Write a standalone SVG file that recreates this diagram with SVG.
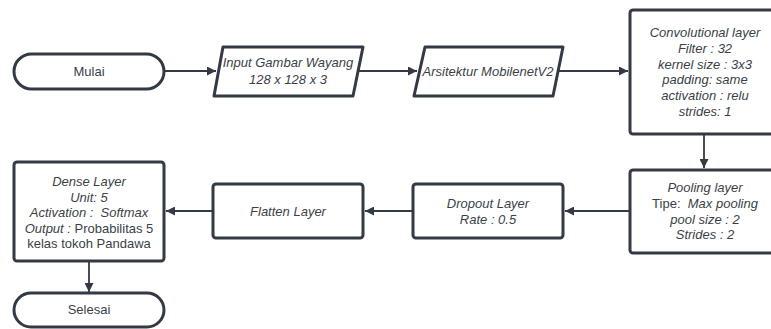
<svg xmlns="http://www.w3.org/2000/svg" width="771" height="329" viewBox="0 0 771 329">
<style>
.box{fill:#fff;stroke:#333a45;stroke-width:3;stroke-linejoin:round}
.t{font-family:"Liberation Sans",Arial,sans-serif;font-size:13px;fill:#3a3f47;text-anchor:middle}
.i{font-style:italic}
.c{stroke:#333a45;stroke-width:1.8;fill:none}
</style>
<defs>
<marker id="ah" viewBox="0 0 10 10" refX="10" refY="5" markerWidth="9" markerHeight="9" markerUnits="userSpaceOnUse" orient="auto">
<path d="M0,0 L10,5 L0,10 z" fill="#333a45"/>
</marker>
</defs>
<rect width="771" height="329" fill="#fff"/>
<g id="connectors">
<line class="c" x1="164" y1="71" x2="216" y2="71" marker-end="url(#ah)"/>
<line class="c" x1="359" y1="71" x2="417" y2="71" marker-end="url(#ah)"/>
<line class="c" x1="558" y1="71" x2="628" y2="71" marker-end="url(#ah)"/>
<line class="c" x1="704" y1="134" x2="704" y2="168" marker-end="url(#ah)"/>
<line class="c" x1="630" y1="211" x2="565" y2="211" marker-end="url(#ah)"/>
<line class="c" x1="413" y1="211" x2="365" y2="211" marker-end="url(#ah)"/>
<line class="c" x1="213" y1="211" x2="166" y2="211" marker-end="url(#ah)"/>
<line class="c" x1="89" y1="261" x2="89" y2="292" marker-end="url(#ah)"/>
</g>
<g id="mulai">
<rect class="box" x="14" y="54" width="150" height="35" rx="17.5"/>
<text class="t" x="89" y="75.5">Mulai</text>
</g>
<g id="input">
<path class="box" d="M223,47 L363,47 L353,96 L214,96 Z"/>
<text class="t i" x="288" y="67">Input Gambar Wayang</text>
<text class="t i" x="288" y="84">128 x 128 x 3</text>
</g>
<g id="arsitektur">
<path class="box" d="M425,47 L563,47 L553,96 L414,96 Z"/>
<text class="t i" x="488" y="76">Arsitektur MobilenetV2</text>
</g>
<g id="conv">
<rect class="box" x="630" y="10" width="150" height="124" rx="3"/>
<text class="t i" x="705" y="37">Convolutional layer</text>
<text class="t i" x="705" y="53">Filter : 32</text>
<text class="t i" x="705" y="68.5">kernel size : 3x3</text>
<text class="t i" x="705" y="84">padding: same</text>
<text class="t i" x="705" y="100">activation : relu</text>
<text class="t i" x="705" y="115.5">strides: 1</text>
</g>
<g id="pooling">
<rect class="box" x="630" y="170" width="150" height="83" rx="3"/>
<text class="t i" x="705" y="192">Pooling layer</text>
<text class="t" x="705" y="208" xml:space="preserve"><tspan>Tipe:  </tspan><tspan class="i">Max pooling</tspan></text>
<text class="t i" x="705" y="224">pool size : 2</text>
<text class="t i" x="705" y="239">Strides : 2</text>
</g>
<g id="dropout">
<rect class="box" x="413" y="184" width="150" height="54" rx="3"/>
<text class="t i" x="488" y="208">Dropout Layer</text>
<text class="t i" x="488" y="224">Rate : 0.5</text>
</g>
<g id="flatten">
<rect class="box" x="213" y="184" width="150" height="54" rx="3"/>
<text class="t i" x="288" y="215.5">Flatten Layer</text>
</g>
<g id="dense">
<rect class="box" x="14" y="162" width="150" height="99" rx="3"/>
<text class="t i" x="89" y="186">Dense Layer</text>
<text class="t i" x="89" y="201.5">Unit: 5</text>
<text class="t i" x="89" y="217" xml:space="preserve">Activation :  Softmax</text>
<text class="t" x="89" y="232.5" xml:space="preserve"><tspan class="i">Output : </tspan><tspan>Probabilitas 5</tspan></text>
<text class="t" x="89" y="248">kelas tokoh Pandawa</text>
</g>
<g id="selesai">
<rect class="box" x="14" y="293" width="150" height="34" rx="17"/>
<text class="t" x="89" y="314">Selesai</text>
</g>
</svg>
